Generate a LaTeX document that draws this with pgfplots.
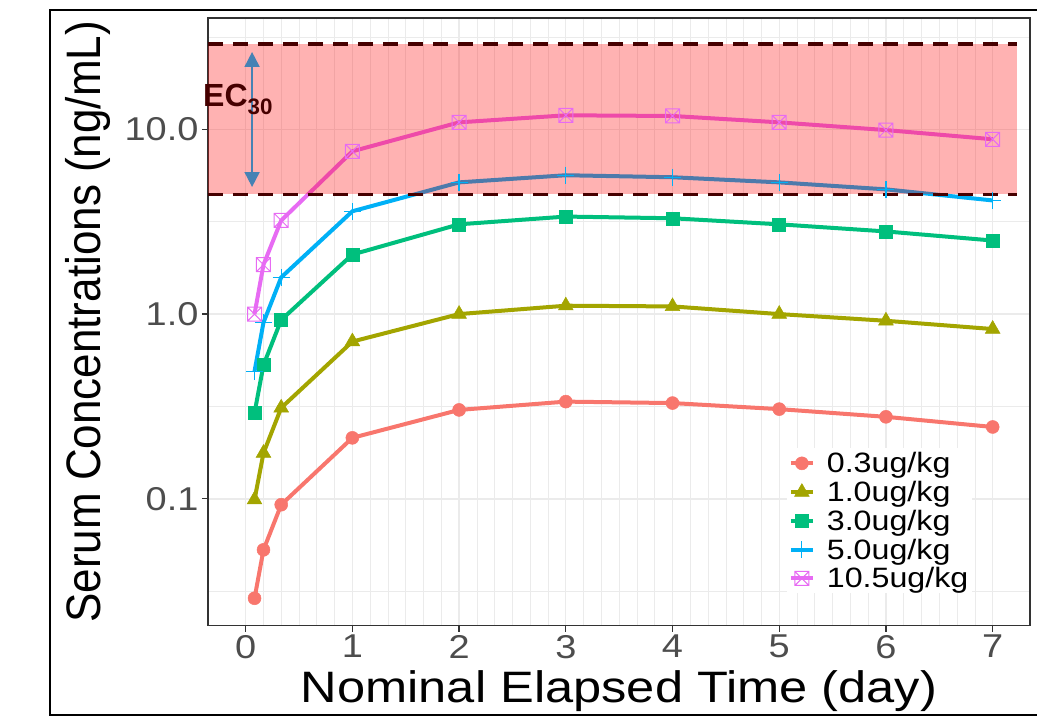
\documentclass[border=0pt]{standalone}
\usepackage{fontspec}
\setmainfont{Liberation Sans}
\usepackage{graphicx}
\usepackage{pgfplots}
\pgfplotsset{compat=1.18}
\usetikzlibrary{arrows.meta}

\definecolor{c1}{HTML}{F8766D}
\definecolor{c2}{HTML}{A3A500}
\definecolor{c3}{HTML}{00BF7D}
\definecolor{c4}{HTML}{00B0F6}
\definecolor{c5}{HTML}{E76BF3}
\definecolor{ecred}{RGB}{70,0,0}
\definecolor{arrowblue}{HTML}{4682B4}
\definecolor{gridgray}{HTML}{EBEBEB}
\definecolor{gray20}{HTML}{333333}
\definecolor{gray30}{HTML}{4D4D4D}

% the reference text is a little wide, stretch it
\newcommand{\sx}[1]{\scalebox{1.15}[1]{#1}}

% square with a cross, like ggplot shape 7
\pgfdeclareplotmark{boxx}{%
  \pgfpathrectangle{\pgfpoint{-\pgfplotmarksize}{-\pgfplotmarksize}}%
                   {\pgfpoint{2\pgfplotmarksize}{2\pgfplotmarksize}}%
  \pgfpathmoveto{\pgfpoint{-\pgfplotmarksize}{-\pgfplotmarksize}}%
  \pgfpathlineto{\pgfpoint{\pgfplotmarksize}{\pgfplotmarksize}}%
  \pgfpathmoveto{\pgfpoint{-\pgfplotmarksize}{\pgfplotmarksize}}%
  \pgfpathlineto{\pgfpoint{\pgfplotmarksize}{-\pgfplotmarksize}}%
  \pgfusepathqstroke}

\tikzset{
  ser/.style={color=#1, line width=4pt},
}

\begin{document}
\begin{tikzpicture}
\useasboundingbox (0,0) rectangle (1037pt,718pt);
\draw[black, line width=2.5pt] (50pt,3pt) rectangle (1045pt,708pt);
\begin{axis}[
  at={(208pt,92.3pt)}, anchor=south west,
  scale only axis, width=822pt, height=607.7pt,
  ymode=log,
  xmin=-0.353, xmax=7.35, ymin=0.0206, ymax=40.0,
  clip=false,
  xtick={0,1,2,3,4,5,6,7},
  xticklabels={\sx{0},\sx{1},\sx{2},\sx{3},\sx{4},\sx{5},\sx{6},\sx{7}},
  ytick={0.1,1,10}, yticklabels={\sx{0.1},\sx{1.0},\sx{10.0}},
  minor x tick num=5,
  minor ytick={0.0316,0.316,3.16,31.6},
  grid=both,
  major grid style={gridgray, line width=1.3pt},
  minor grid style={gridgray, line width=0.7pt},
  tick align=outside, major tick length=6pt, minor tick length=0pt,
  tick style={gray20, line width=1.2pt},
  axis line style={gray20, line width=1.5pt},
  xtick pos=bottom, ytick pos=left,
  tick label style={font=\fontsize{33}{38}\selectfont, text=gray30},
  /pgf/number format/assume math mode=true,
  xlabel={\sx{Nominal Elapsed Time (day)}},
  ylabel={\scalebox{1}[1.1]{Serum Concentrations (ng/mL)}},
  label style={font=\fontsize{44}{50}\selectfont, text=black},
  xlabel style={at={(axis description cs:0.5,-0.127)}, anchor=base},
  ylabel style={at={(axis description cs:-0.131,0.5)}, anchor=base},
  legend style={at={(0.704,0.292)}, anchor=north west, draw=none,
                fill=white, font=\fontsize{28}{29}\selectfont,
                row sep=3pt, inner sep=2pt, text=black},
  legend cell align=left,
  legend image code/.code={%
    \draw[mark repeat=2,mark phase=2]
      plot coordinates {(0pt,0pt) (11pt,0pt) (22pt,0pt)};
    \path (32pt,0pt);},
]
\addplot[ser=c1, mark=*, mark size=6.5pt, mark options={line width=0.5pt}]
  coordinates {(0.083,0.029) (0.167,0.053) (0.333,0.093) (1,0.214) (2,0.303)
               (3,0.336) (4,0.330) (5,0.306) (6,0.278) (7,0.245)};
\addlegendentry{\sx{0.3ug/kg}}
\addplot[ser=c2, mark=triangle*, mark size=8.5pt, mark options={line width=0.5pt}]
  coordinates {(0.083,0.099) (0.167,0.177) (0.333,0.311) (1,0.71) (2,1.00)
               (3,1.11) (4,1.10) (5,1.00) (6,0.92) (7,0.83)};
\addlegendentry{\sx{1.0ug/kg}}
\addplot[ser=c3, mark=square*, mark size=6.5pt, mark options={line width=0.5pt}]
  coordinates {(0.083,0.292) (0.167,0.53) (0.333,0.93) (1,2.10) (2,3.06)
               (3,3.37) (4,3.30) (5,3.06) (6,2.80) (7,2.50)};
\addlegendentry{\sx{3.0ug/kg}}
\addplot[ser=c4, mark=+, mark size=8.5pt, mark options={line width=1.2pt}]
  coordinates {(0.083,0.49) (0.167,0.90) (0.333,1.58) (1,3.60) (2,5.16)
               (3,5.64) (4,5.50) (5,5.16) (6,4.73) (7,4.12)};
\addlegendentry{\sx{5.0ug/kg}}
\addplot[ser=c5, mark=boxx, mark size=7pt, mark options={line width=1pt}]
  coordinates {(0.083,1.00) (0.167,1.85) (0.333,3.21) (1,7.6) (2,10.9)
               (3,11.9) (4,11.8) (5,10.9) (6,9.9) (7,8.83)};
\addlegendentry{\sx{10.5ug/kg}}
% EC30 band
\fill[red, fill opacity=0.3] (axis cs:-0.353,4.45) rectangle (axis cs:7.23,28.9);
\draw[ecred, line width=3.5pt, dash pattern=on 15pt off 10pt]
  (axis cs:-0.353,28.9) -- (axis cs:7.23,28.9);
\draw[ecred, line width=3.5pt, dash pattern=on 15pt off 10pt]
  (axis cs:-0.353,4.45) -- (axis cs:7.23,4.45);
\draw[arrowblue, line width=1.8pt,
      {Triangle[length=15pt,width=15pt]}-{Triangle[length=15pt,width=15pt]}]
  (axis cs:0.06,26.2) -- (axis cs:0.06,4.87);
\node[anchor=base west, font=\fontsize{32}{38}\selectfont\bfseries, text=ecred,
      inner sep=0pt]
  at (axis cs:-0.40,13.2) {EC\textsubscript{30}};
\end{axis}
\end{tikzpicture}
\end{document}
